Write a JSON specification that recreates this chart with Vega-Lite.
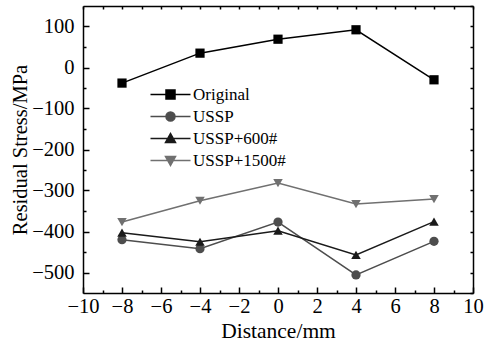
{
  "$schema": "https://vega.github.io/schema/vega-lite/v6.json",
  "width": 390,
  "height": 287,
  "autosize": "none",
  "padding": {"left": 83, "top": 6, "right": 14, "bottom": 61},
  "background": "white",
  "config": {
    "font": "Liberation Serif",
    "view": {"stroke": null},
    "axis": {
      "domainColor": "black",
      "domainWidth": 1.5,
      "tickColor": "black",
      "tickWidth": 1.5,
      "grid": false,
      "labelOverlap": false,
      "labelFlush": false,
      "labelFont": "Liberation Serif",
      "labelFontSize": 20.5,
      "labelColor": "black",
      "titleFont": "Liberation Serif",
      "titleFontSize": 21,
      "titleFontWeight": "normal",
      "titleColor": "black"
    }
  },
  "data": {
    "values": [
      {"d": -8, "s": -38, "series": "Original"},
      {"d": -4, "s": 35, "series": "Original"},
      {"d": 0, "s": 69, "series": "Original"},
      {"d": 4, "s": 92, "series": "Original"},
      {"d": 8, "s": -30, "series": "Original"},
      {"d": -8, "s": -420, "series": "USSP"},
      {"d": -4, "s": -442, "series": "USSP"},
      {"d": 0, "s": -377, "series": "USSP"},
      {"d": 4, "s": -506, "series": "USSP"},
      {"d": 8, "s": -424, "series": "USSP"},
      {"d": -8, "s": -403, "series": "USSP+600#"},
      {"d": -4, "s": -425, "series": "USSP+600#"},
      {"d": 0, "s": -398, "series": "USSP+600#"},
      {"d": 4, "s": -457, "series": "USSP+600#"},
      {"d": 8, "s": -376, "series": "USSP+600#"},
      {"d": -8, "s": -377, "series": "USSP+1500#"},
      {"d": -4, "s": -325, "series": "USSP+1500#"},
      {"d": 0, "s": -282, "series": "USSP+1500#"},
      {"d": 4, "s": -333, "series": "USSP+1500#"},
      {"d": 8, "s": -321, "series": "USSP+1500#"}
    ]
  },
  "layer": [
    {
      "mark": {"type": "line", "strokeWidth": 1.5},
      "encoding": {
        "x": {
          "field": "d", "type": "quantitative",
          "scale": {"domain": [-10, 10], "nice": false},
          "axis": {
            "orient": "bottom",
            "title": "Distance/mm",
            "titleFontSize": 21.5,
            "values": [-10,-8,-6,-4,-2,0,2,4,6,8,10],
            "ticks": false,
            "labelPadding": 3,
            "titlePadding": 4
          }
        },
        "y": {
          "field": "s", "type": "quantitative",
          "scale": {"domain": [-550, 150], "nice": false},
          "axis": {
            "orient": "left",
            "title": "Residual Stress/MPa",
            "titleFontSize": 20.5,
            "values": [-500,-400,-300,-200,-100,0,100],
            "ticks": false,
            "labelPadding": 9,
            "titlePadding": 1
          }
        },
        "color": {
          "field": "series", "type": "nominal",
          "scale": {
            "domain": ["Original", "USSP", "USSP+600#", "USSP+1500#"],
            "range": ["#000000", "#4d4d4d", "#1a1a1a", "#707070"]
          },
          "legend": {
            "orient": "none",
            "legendX": 79,
            "legendY": 80,
            "title": null,
            "labelFont": "Liberation Serif",
            "labelFontSize": 17,
            "labelColor": "black",
            "symbolSize": 100,
            "labelOffset": 14,
            "rowPadding": 4,
            "encode": {
              "symbols": {
                "update": {
                  "shape": {"signal": "datum.value === 'Original' ? 'M-4,0H4M-0.9,-0.9H0.9V0.9H-0.9Z' : datum.value === 'USSP' ? 'M-4,0H4M-0.9,0A0.9,0.9 0 1,0 0.9,0A0.9,0.9 0 1,0 -0.9,0Z' : datum.value === 'USSP+600#' ? 'M-4,0H4M-1,0.8L1,0.8L0,-1Z' : 'M-4,0H4M-1,-0.8L1,-0.8L0,1Z'"},
                  "fill": {"signal": "scale('color', datum.value)"},
                  "stroke": {"signal": "scale('color', datum.value)"},
                  "strokeWidth": {"value": 1.5},
                  "opacity": {"value": 1}
                }
              }
            }
          }
        }
      }
    },
    {
      "transform": [{"filter": "datum.series === 'Original'"}],
      "mark": {"type": "point", "filled": true, "opacity": 1, "size": 85, "shape": "square", "color": "#000000"},
      "encoding": {
        "x": {
          "field": "d", "type": "quantitative",
          "scale": {"domain": [-10, 10], "nice": false},
          "axis": {
            "orient": "top", "title": null, "labels": false,
            "values": [-10,-9,-8,-7,-6,-5,-4,-3,-2,-1,0,1,2,3,4,5,6,7,8,9,10],
            "tickSize": -3
          }
        },
        "y": {
          "field": "s", "type": "quantitative",
          "scale": {"domain": [-550, 150], "nice": false},
          "axis": {
            "orient": "right", "title": null, "labels": false,
            "values": [-550,-500,-450,-400,-350,-300,-250,-200,-150,-100,-50,0,50,100,150],
            "tickSize": -3
          }
        }
      }
    },
    {
      "transform": [{"filter": "datum.series === 'USSP'"}],
      "mark": {"type": "point", "filled": true, "opacity": 1, "size": 85, "shape": "circle", "color": "#4d4d4d"},
      "encoding": {
        "x": {
          "field": "d", "type": "quantitative",
          "scale": {"domain": [-10, 10], "nice": false},
          "axis": {
            "orient": "bottom", "title": null, "labels": false, "domain": false,
            "values": [-9,-7,-5,-3,-1,1,3,5,7,9],
            "tickSize": -3
          }
        },
        "y": {
          "field": "s", "type": "quantitative",
          "scale": {"domain": [-550, 150], "nice": false},
          "axis": {
            "orient": "left", "title": null, "labels": false, "domain": false,
            "values": [-450,-350,-250,-150,-50,50],
            "tickSize": -3
          }
        }
      }
    },
    {
      "transform": [{"filter": "datum.series === 'USSP+600#'"}],
      "mark": {"type": "point", "filled": true, "opacity": 1, "size": 90, "shape": "triangle-up", "color": "#1a1a1a"},
      "encoding": {
        "x": {
          "field": "d", "type": "quantitative",
          "scale": {"domain": [-10, 10], "nice": false},
          "axis": {
            "orient": "bottom", "title": null, "labels": false, "domain": false,
            "values": [-10,-8,-6,-4,-2,0,2,4,6,8,10],
            "tickSize": -6
          }
        },
        "y": {
          "field": "s", "type": "quantitative",
          "scale": {"domain": [-550, 150], "nice": false},
          "axis": {
            "orient": "left", "title": null, "labels": false, "domain": false,
            "values": [-500,-400,-300,-200,-100,0,100],
            "tickSize": -6
          }
        }
      }
    },
    {
      "transform": [{"filter": "datum.series === 'USSP+1500#'"}],
      "mark": {"type": "point", "filled": true, "opacity": 1, "size": 90, "shape": "triangle-down", "color": "#707070"},
      "encoding": {
        "x": {"field": "d", "type": "quantitative", "scale": {"domain": [-10, 10], "nice": false}, "axis": null},
        "y": {"field": "s", "type": "quantitative", "scale": {"domain": [-550, 150], "nice": false}, "axis": null}
      }
    }
  ],
  "resolve": {"axis": {"x": "independent", "y": "independent"}}
}
